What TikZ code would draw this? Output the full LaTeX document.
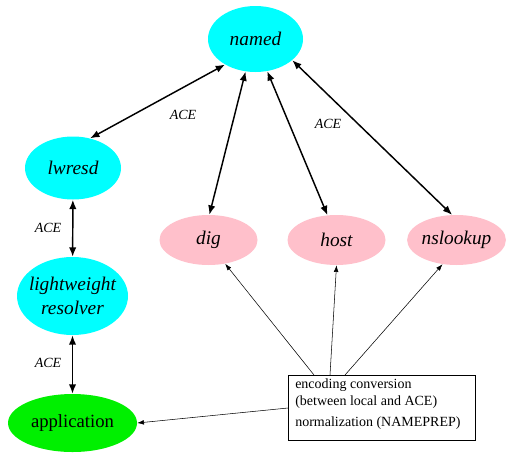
\documentclass[tikz,border=0pt]{standalone}
\usepackage{fontspec}
\setmainfont{Liberation Serif}
\usetikzlibrary{shapes.geometric,arrows.meta}
\definecolor{cyanfill}{RGB}{0,255,255}
\definecolor{pinkfill}{RGB}{255,192,203}
\definecolor{greenfill}{RGB}{0,240,0}
\begin{document}
\begin{tikzpicture}[x=0.75pt,y=-0.75pt,
  ell/.style={ellipse,inner sep=0pt,font=\fontsize{14.5}{15}\selectfont\itshape},
  cyanell/.style={ell,fill=cyanfill},
  pinkell/.style={ell,fill=pinkfill},
  greenell/.style={ell,fill=greenfill,font=\fontsize{14}{15}\selectfont},
  bidir/.style={line width=1.1pt,{Latex[length=7pt,width=5.5pt]}-{Latex[length=7pt,width=5.5pt]}},
  thinarr/.style={line width=0.4pt,-{Latex[length=5pt,width=3.5pt]}},
  acelab/.style={font=\fontsize{10.5}{11}\selectfont\itshape},
  boxstyle/.style={draw,line width=0.6pt,fill=white,align=left,inner sep=0pt,
    minimum width=140.25pt,minimum height=48.75pt}]
\useasboundingbox[fill=white] (0,0) rectangle (513,464);
\node[cyanell,minimum width=71.25pt,minimum height=49.5pt] (named) at (255.5,39) {named};
\node[cyanell,minimum width=72pt,minimum height=47.25pt] (lwresd) at (73,168) {lwresd};
\node[cyanell,minimum width=83.25pt,minimum height=58.5pt,inner xsep=-6pt,inner ysep=-4pt,align=center,font=\fontsize{14.5}{17.5}\selectfont\itshape] (lwres) at (72.5,296) {lightweight\\resolver};
\node[greenell,minimum width=96.75pt,minimum height=43.5pt] (app) at (72.5,423) {application};
\node[pinkell,minimum width=73.5pt,minimum height=37.5pt] (dig) at (208.5,240) {dig};
\node[pinkell,minimum width=73.5pt,minimum height=37.5pt] (host) at (336.5,240) {host};
\node[pinkell,minimum width=73.5pt,minimum height=37.5pt] (nslookup) at (456.5,240) {nslookup};
\node[boxstyle] (conv) at (381.5,408) {};
\node[anchor=west,font=\fontsize{10.5}{12.5}\selectfont,align=left,inner sep=0pt] (convtext) at (295,404) {encoding conversion\\(between local and ACE)\\[3pt]normalization (NAMEPREP)};
\coordinate (c1) at (314,375);
\coordinate (c2) at (330,375);
\coordinate (c3) at (345,375);
\coordinate (c4) at (288,408);
\draw[bidir] (named.220) -- (lwresd.60);
\draw[bidir] (named.253) -- (dig.88);
\draw[bidir] (named.290) -- (host.110);
\draw[bidir] (named.330) -- (nslookup.100);
\draw[bidir] (lwresd) -- (lwres);
\draw[bidir] (lwres) -- (app);
\draw[thinarr] (c1) -- (dig.305);
\draw[thinarr] (c2) -- (host.270);
\draw[thinarr] (c3) -- (nslookup.240);
\draw[thinarr] (c4) -- (app.east);
\node[acelab] (ace1) at (183,115) {ACE};
\node[acelab] (ace2) at (328,124) {ACE};
\node[acelab] (ace3) at (48,228) {ACE};
\node[acelab] (ace4) at (48,363) {ACE};
\end{tikzpicture}
\end{document}
